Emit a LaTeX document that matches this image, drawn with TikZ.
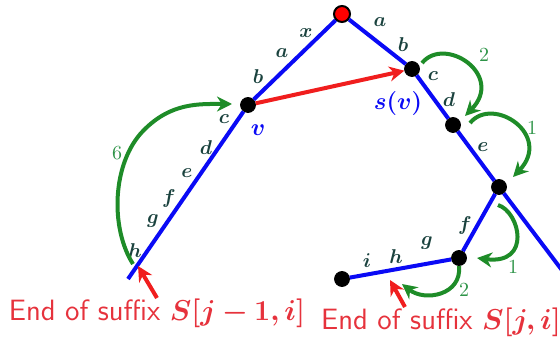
\documentclass[tikz,border=0pt]{standalone}
\usepackage{amsmath,bm}
\usetikzlibrary{arrows.meta}
\definecolor{tree-blue}{HTML}{0A0AF5}
\definecolor{link-red}{HTML}{F01E1E}
\definecolor{walk-green}{HTML}{1E8C28}
\definecolor{count-green}{HTML}{2E9448}
\definecolor{letter-teal}{HTML}{1A423E}
\definecolor{note-red}{HTML}{E6323C}

\begin{document}
\begin{tikzpicture}[x=0.5pt, y=0.5pt,
    vtx/.style={circle, fill=black, draw=black, inner sep=0pt, minimum size=7.5pt},
    rootvtx/.style={circle, fill=red, draw=black, line width=1pt, inner sep=0pt, minimum size=8pt},
    treeline/.style={tree-blue, line width=2pt},
    hop/.style={walk-green, line width=2pt, -{Stealth[length=7.5pt, width=7.5pt]}},
    link/.style={link-red, line width=2pt, -{Stealth[length=7.5pt, width=7.5pt]}},
    lbl/.style={text=letter-teal, inner sep=0pt},
    cnt/.style={text=count-green, inner sep=0pt},
    note/.style={text=note-red, font=\sffamily\fontsize{14.7}{17}\selectfont, inner sep=0pt, anchor=base}]

    % Background
    \useasboundingbox (0,0) rectangle (560,-341);
    \clip (0,0) rectangle (560,-341);

    % Tree nodes
    \node[rootvtx] (root) at (342,-14) {};
    \node[vtx] (v) at (248,-105) {};
    \node[vtx] (sv) at (412,-69) {};
    \node[vtx] (nd) at (453,-125) {};
    \node[vtx] (ne) at (499,-187) {};
    \node[vtx] (nf) at (459,-258) {};
    \node[vtx] (ni) at (342,-279) {};
    \coordinate (lend) at (128,-279);
    \coordinate (rend) at (580,-294);

    % Tree edges
    \draw[treeline] (lend) -- (v) -- (root) -- (sv) -- (nd) -- (ne) -- (rend);
    \draw[treeline] (ne) -- (nf) -- (ni);

    % Suffix link
    \draw[link] (v) -- (sv);

    % Edge letters, left path
    \node[lbl] (lx) at (306,-33) {$\bm{x}$};
    \node[lbl] (la) at (282,-53) {$\bm{a}$};
    \node[lbl] (lb) at (258,-77) {$\bm{b}$};
    \node[lbl] (lc) at (224,-119) {$\bm{c}$};
    \node[lbl] (ld) at (206,-148) {$\bm{d}$};
    \node[lbl] (le) at (187,-173) {$\bm{e}$};
    \node[lbl] (lf) at (169,-199) {$\bm{f}$};
    \node[lbl] (lg) at (153,-221) {$\bm{g}$};
    \node[lbl] (lh) at (135,-251) {$\bm{h}$};

    % Edge letters, right path
    \node[lbl] (ra) at (380,-22) {$\bm{a}$};
    \node[lbl] (rb) at (403,-45) {$\bm{b}$};
    \node[lbl] (rc) at (433,-76) {$\bm{c}$};
    \node[lbl] (rd) at (449,-100) {$\bm{d}$};
    \node[lbl] (re) at (483,-147) {$\bm{e}$};
    \node[lbl] (rf) at (465,-225) {$\bm{f}$};
    \node[lbl] (rg) at (427,-243) {$\bm{g}$};
    \node[lbl] (rh) at (396,-257) {$\bm{h}$};
    \node[lbl] (ri) at (367,-261) {$\bm{i}$};

    % Node names
    \node[text=tree-blue, font=\large] (vname) at (258,-130) {$\bm{v}$};
    \node[text=tree-blue, font=\large] (svname) at (398,-104) {$\bm{s(v)}$};

    % Walk
    \draw[hop] (133,-264) .. controls (110,-228) and (112,-163) .. (143,-131)
        .. controls (171,-102) and (200,-104) .. (232,-104);
    \draw[hop] (422,-63) .. controls (445,-35) and (505,-75) .. (465,-116);
    \draw[hop] (470,-123) .. controls (493,-95) and (553,-135) .. (513,-177);
    \draw[hop] (498,-205) .. controls (520,-212) and (532,-265) .. (477,-258);
    \draw[hop] (459,-266) .. controls (462,-295) and (425,-302) .. (402,-284);

    % Counts
    \node[cnt] (c6) at (117,-153) {6};
    \node[cnt] (c2a) at (484,-55) {2};
    \node[cnt] (c1a) at (532,-128) {1};
    \node[cnt] (c1b) at (513,-267) {1};
    \node[cnt] (c2b) at (464,-290) {2};

    % Suffix ends
    \node[note] (note1) at (157,-320) {End of suffix $\bm{S[j-1,i]}$};
    \node[note] (note2) at (441,-329) {End of suffix $\bm{S[j,i]}$};
    \coordinate (hend) at (138,-266);
    \coordinate (hpos) at (390,-280);
    \draw[link] (note1.north) -- (hend);
    \draw[link] ([xshift=-18pt]note2.north) -- (hpos);

\end{tikzpicture}
\end{document}
